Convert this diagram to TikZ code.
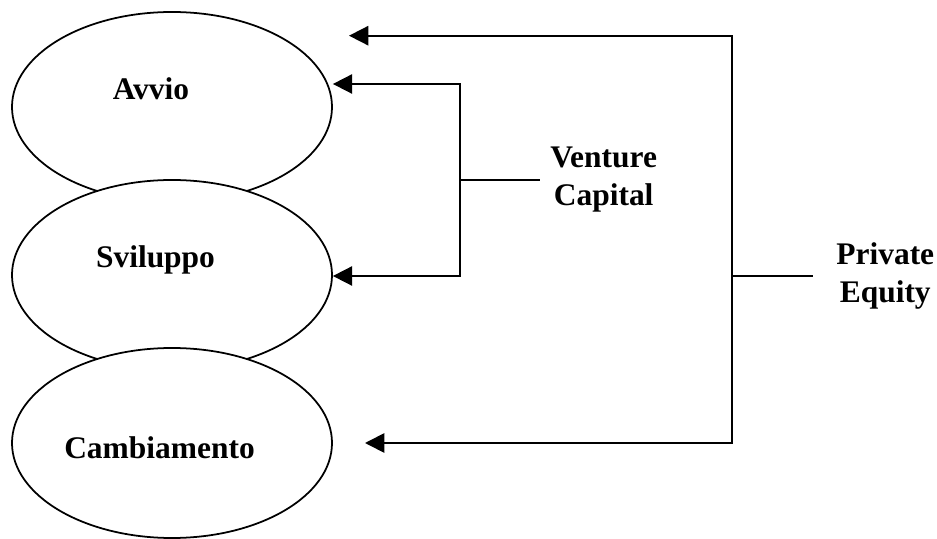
\documentclass[tikz,border=0pt]{standalone}
\usepackage{fontspec}
\setmainfont{Liberation Serif}
\usetikzlibrary{shapes.geometric,arrows.meta,positioning}

\begin{document}
\begin{tikzpicture}[
  stage/.style={draw,ellipse,fill=white,line width=1pt,
    minimum width=6.4cm,minimum height=3.8cm,inner sep=0pt},
  stagetext/.style={font=\fontsize{17.9}{21.6}\selectfont\bfseries,inner sep=0pt},
  link/.style={line width=1pt},
  feed/.style={link,{Triangle[length=11pt,width=11pt]}-{Triangle[length=11pt,width=11pt]}}
]
\useasboundingbox (0,0) rectangle (18.74,-10.78);
% the three stages, each one lying over the one above
\node[stage] (avvio) at (3.44,-2.14) {};
\node[stage] (svil) at (3.44,-5.50) {};
\node[stage] (camb) at (3.44,-8.86) {};
\node[stagetext,anchor=base] (avviotxt) at (3.02,-2.00) {Avvio};
\node[stagetext,anchor=base] (sviltxt) at (3.11,-5.36) {Sviluppo};
\node[stagetext,anchor=base] (cambtxt) at (3.19,-9.18) {Cambiamento};
% venture capital bracket
\coordinate (vctop) at (9.2,-1.68);
\coordinate (vcbot) at (9.2,-5.52);
\coordinate (vcmid) at (9.2,-3.6);
\coordinate (vcend) at (10.8,-3.6);
\draw[feed] (avvio.east |- vctop) -- (vctop) -- (vcbot) -- (svil.east |- vcbot);
\draw[link] (vcmid) -- (vcend);
\node[stagetext,align=center,right=0.2cm of vcend] (vc) {Venture\\Capital};
% private equity bracket
\coordinate (petop) at (14.64,-0.714);
\coordinate (pebot) at (14.64,-8.86);
\coordinate (pemid) at (14.64,-5.52);
\coordinate (peend) at (16.26,-5.52);
\coordinate (petip) at (6.98,-0.714);
\coordinate (pelow) at (7.30,-8.86);
\draw[feed] (petip) -- (petop) -- (pebot) -- (pelow);
\draw[link] (pemid) -- (peend);
\node[stagetext,align=center,right=0.46cm of peend] (pe) {Private\\Equity};
\end{tikzpicture}
\end{document}
